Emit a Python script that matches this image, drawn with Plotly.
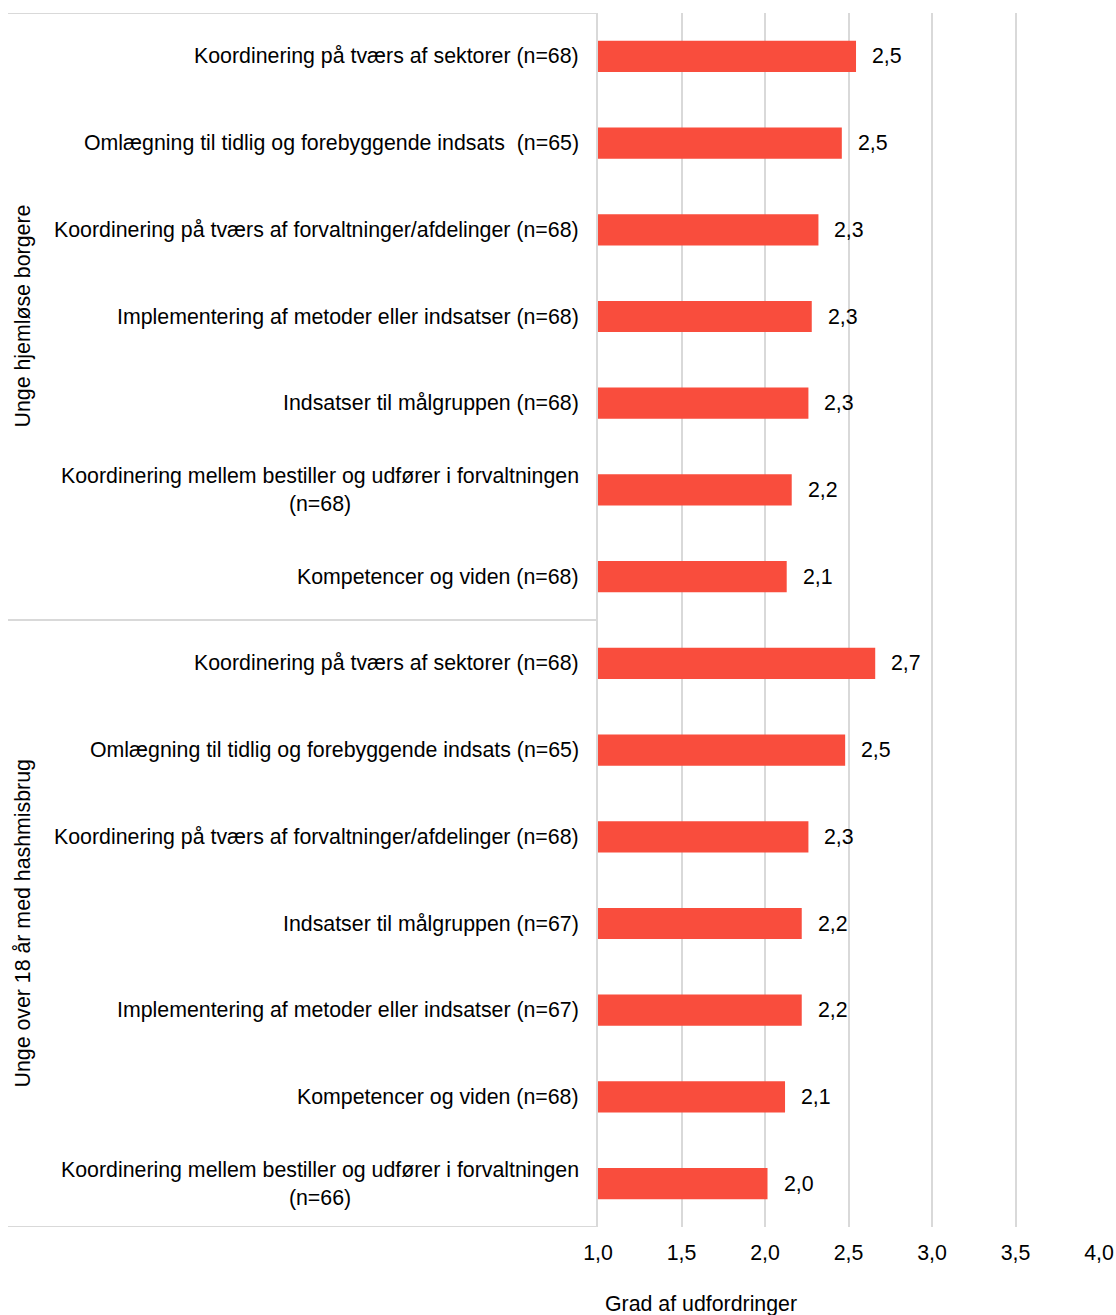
import plotly.graph_objects as go

groups = ["Unge hjemløse borgere", "Unge over 18 år med hashmisbrug"]
labels_g1 = [
    "Koordinering på tværs af sektorer (n=68)",
    "Omlægning til tidlig og forebyggende indsats  (n=65)",
    "Koordinering på tværs af forvaltninger/afdelinger (n=68)",
    "Implementering af metoder eller indsatser (n=68)",
    "Indsatser til målgruppen (n=68)",
    "Koordinering mellem bestiller og udfører i forvaltningen<br>(n=68)",
    "Kompetencer og viden (n=68)",
]
values_g1 = [2.545, 2.46, 2.32, 2.28, 2.26, 2.16, 2.13]
labels_g2 = [
    "Koordinering på tværs af sektorer (n=68)",
    "Omlægning til tidlig og forebyggende indsats (n=65)",
    "Koordinering på tværs af forvaltninger/afdelinger (n=68)",
    "Indsatser til målgruppen (n=67)",
    "Implementering af metoder eller indsatser (n=67)",
    "Kompetencer og viden (n=68)",
    "Koordinering mellem bestiller og udfører i forvaltningen<br>(n=66)",
]
values_g2 = [2.66, 2.48, 2.26, 2.22, 2.22, 2.12, 2.015]
x_ticks = [1.0, 1.5, 2.0, 2.5, 3.0, 3.5, 4.0]
x_title = "Grad af udfordringer"

labels = labels_g1 + labels_g2
values = values_g1 + values_g2
pos = list(range(len(labels)))

FONT = "Liberation Sans, Arial, sans-serif"
FS = 21.33
BAR = "#F94D3D"
GRID = "#D9D9D9"

fig = go.Figure()
fig.add_trace(go.Bar(
    x=[v - 1.0 for v in values], base=1.0, y=pos, orientation="h",
    marker=dict(color=BAR, line=dict(width=0)), width=0.36,
    hoverinfo="skip", showlegend=False,
))

W, H = 1116, 1315
L, R, T, B = 598, 17, 13, 88
PW = W - L - R
PH = H - T - B

# value labels
for p, v in zip(pos, values):
    fig.add_annotation(x=v, y=p, xref="x", yref="y", text=f"{v:.1f}".replace(".", ","),
                       showarrow=False, xanchor="left", xshift=14,
                       font=dict(family=FONT, size=FS, color="#000"))
# category labels
for p, lab in zip(pos, labels):
    fig.add_annotation(x=-17 / PW, y=p, xref="paper", yref="y", text=lab,
                       showarrow=False, xanchor="right", align="center",
                       font=dict(family=FONT, size=FS, color="#000"))
# group labels
n1 = len(labels_g1)
n2 = len(labels_g2)
grp_centers = [(n1 - 1) / 2, n1 + (n2 - 1) / 2]
for g, c in zip(groups, grp_centers):
    fig.add_annotation(x=(22 - L) / PW, y=c, xref="paper", yref="y", text=g,
                       showarrow=False, textangle=-90, xanchor="center", yanchor="middle",
                       font=dict(family=FONT, size=FS, color="#000"))
# separators
x0 = (8 - L) / PW
for yv in [-0.5, n1 - 0.5, n1 + n2 - 0.5]:
    fig.add_shape(type="line", xref="paper", yref="y", x0=x0, x1=0, y0=yv, y1=yv,
                  line=dict(color=GRID, width=2))
# axis title
fig.add_annotation(x=(701 - L) / PW, y=-(1304 - (H - B)) / PH, xref="paper", yref="paper",
                   text=x_title, showarrow=False, xanchor="center", yanchor="middle",
                   font=dict(family=FONT, size=FS, color="#000"))

fig.update_layout(
    width=W, height=H, autosize=False, margin=dict(l=L, r=R, t=T, b=B, pad=0),
    plot_bgcolor="white", paper_bgcolor="white",
    separators=", ",
    xaxis=dict(range=[1.0, 4.0], tickvals=x_ticks, tickformat=".1f", automargin=False,
               showgrid=True, gridcolor=GRID, gridwidth=2, zeroline=False,
               showline=False, ticks="", ticklabelstandoff=11,
               tickfont=dict(family=FONT, size=FS, color="#000")),
    yaxis=dict(range=[len(labels) - 0.5, -0.5], showticklabels=False, showgrid=False,
               automargin=False,
               zeroline=False, showline=True, linecolor=GRID, linewidth=2, ticks=""),
    font=dict(family=FONT, size=FS, color="#000"),
)
fig.write_html("out.html",
               config={"displayModeBar": False, "responsive": False},
               post_script="document.body.style.margin='0';document.body.style.overflow='hidden';")
